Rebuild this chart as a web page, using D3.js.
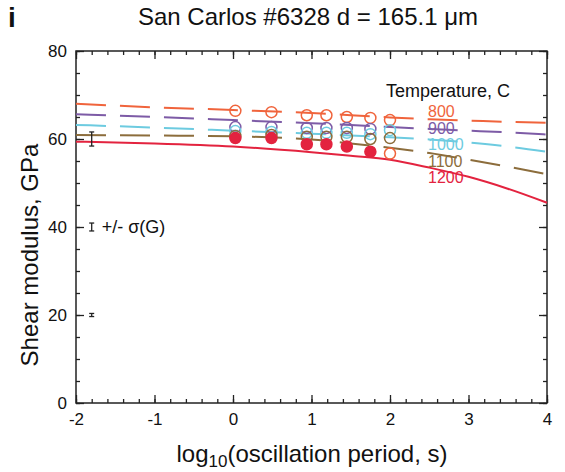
<!DOCTYPE html>
<html>
<head>
<meta charset="utf-8">
<script src="https://cdn.jsdelivr.net/npm/d3@7"></script>
<style>
	body { margin: 0; background: #fff; }
	svg { font-family: "Liberation Sans", Arial, Helvetica, sans-serif; }
	.tick text { font-size: 17px; fill: #111; }
</style>
</head>
<body>
<svg id="main_svg"></svg>
<script>
const WIDTH = 565;
const HEIGHT = 472;

// temperatures, C
const temps = ['800', '900', '1000', '1100', '1200'];
const colors = ['#f0643c', '#7d5ba6', '#6dcbe0', '#8c6d3c', '#e3233f'];

// model curves, log10 period vs G (GPa)
const curve_x = [-2, -1, 0, 1, 1.5, 2, 2.5, 3, 3.5, 4];
const curve_800 = [68.0, 67.2, 66.6, 65.9, 65.4, 64.9, 64.5, 64.2, 63.9, 63.7];
const curve_900 = [65.6, 65.0, 64.3, 63.6, 63.2, 62.7, 62.3, 61.9, 61.5, 61.0];
const curve_1000 = [63.2, 62.6, 61.9, 61.2, 60.8, 60.4, 59.9, 59.2, 58.3, 57.1];
const curve_1100 = [60.9, 60.8, 60.6, 59.9, 59.0, 58.0, 56.8, 55.3, 53.7, 52.0];
const curve_1200 = [59.4, 59.0, 58.3, 57.0, 56.2, 55.3, 53.5, 51.4, 48.7, 45.5];

// measured points
const obs_x = [0.03, 0.49, 0.94, 1.19, 1.45, 1.75, 2.0];
const obs_800 = [66.4, 66.1, 65.4, 65.4, 65.0, 64.8, 64.3];
const obs_900 = [62.7, 62.7, 62.5, 62.5, 62.5, 62.3, null];
const obs_1000 = [61.8, 61.6, 61.4, 61.4, 61.4, 61.1, 62.0];
const obs_1100 = [60.7, 60.9, 60.5, 60.5, 60.5, 60.0, 60.2];
const obs_1200 = [60.2, 60.2, 58.8, 58.8, 58.3, 57.1, 56.7];
const filled_1200 = [1, 1, 1, 1, 1, 1, 0];

// error bar examples
const err_x = -1.8;
const err_g = [60, 40, 20];
const err_sigma = [1.6, 0.9, 0.35];

const x_ticks = [-2, -1, 0, 1, 2, 3, 4];
const y_ticks = [0, 20, 40, 60, 80];

const curves = [curve_800, curve_900, curve_1000, curve_1100, curve_1200];
const obs = [obs_800, obs_900, obs_1000, obs_1100, obs_1200];

const LEFT = 76, RIGHT = 547, TOP = 51, BOTTOM = 403;

const svg = d3.select('#main_svg').attr('width', WIDTH).attr('height', HEIGHT);

const x_scale = d3.scaleLinear().domain([-2, 4]).range([LEFT, RIGHT]);
const y_scale = d3.scaleLinear().domain([0, 80]).range([BOTTOM, TOP]);

// axes: major + minor, ticks pointing inward, mirrored
const x_minor = d3.range(-2, 4.001, 0.2).map(d => +d.toFixed(1));
const y_minor = d3.range(0, 80.001, 5);

const add_axis = (axis, transform) => {
	const g = svg.append('g').attr('transform', transform).call(axis);
	g.select('.domain').remove();
	g.selectAll('.tick line').attr('stroke', '#222').attr('stroke-width', 1.3);
	return g;
};

add_axis(d3.axisBottom(x_scale).tickValues(x_minor).tickSize(-4).tickFormat(''), `translate(0,${BOTTOM})`);
add_axis(d3.axisBottom(x_scale).tickValues(x_ticks).tickSize(-8).tickPadding(10).tickFormat(d => String(d)), `translate(0,${BOTTOM})`);
add_axis(d3.axisTop(x_scale).tickValues(x_minor).tickSize(-4).tickFormat(''), `translate(0,${TOP})`);
add_axis(d3.axisTop(x_scale).tickValues(x_ticks).tickSize(-8).tickFormat(''), `translate(0,${TOP})`);

add_axis(d3.axisLeft(y_scale).tickValues(y_minor).tickSize(-4).tickFormat(''), `translate(${LEFT},0)`);
add_axis(d3.axisLeft(y_scale).tickValues(y_ticks).tickSize(-8).tickPadding(9).tickFormat(d => String(d)), `translate(${LEFT},0)`);
add_axis(d3.axisRight(y_scale).tickValues(y_minor).tickSize(-4).tickFormat(''), `translate(${RIGHT},0)`);
add_axis(d3.axisRight(y_scale).tickValues(y_ticks).tickSize(-8).tickFormat(''), `translate(${RIGHT},0)`);

// frame
svg.append('rect')
	.attr('x', LEFT).attr('y', TOP)
	.attr('width', RIGHT - LEFT).attr('height', BOTTOM - TOP)
	.attr('fill', 'none').attr('stroke', '#222').attr('stroke-width', 1.5);

// model curves
const line = d3.line()
	.x(d => x_scale(d[0]))
	.y(d => y_scale(d[1]))
	.curve(d3.curveMonotoneX);

curves.forEach((c, i) => {
	svg.append('path')
		.datum(curve_x.map((x, j) => [x, c[j]]))
		.attr('d', line)
		.attr('fill', 'none')
		.attr('stroke', colors[i])
		.attr('stroke-width', 2)
		.attr('stroke-dasharray', i === 4 ? null : '30,14');
});

// measured points
obs.forEach((o, i) => {
	const pts = obs_x.map((x, j) => ({x: x, g: o[j], filled: i === 4 && filled_1200[j] === 1}))
		.filter(d => d.g !== null);
	svg.selectAll(null)
		.data(pts)
		.enter()
		.append('circle')
		.attr('cx', d => x_scale(d.x))
		.attr('cy', d => y_scale(d.g))
		.attr('r', 5.5)
		.attr('fill', d => d.filled ? colors[i] : 'none')
		.attr('stroke', d => (i === 4 && !d.filled) ? colors[0] : colors[i])
		.attr('stroke-width', 1.5);
});

// error bars
err_g.forEach((g, i) => {
	const x = x_scale(err_x);
	const y0 = y_scale(g - err_sigma[i]), y1 = y_scale(g + err_sigma[i]);
	const eb = svg.append('g').attr('stroke', '#222').attr('stroke-width', 1.3);
	eb.append('line').attr('x1', x).attr('x2', x).attr('y1', y0).attr('y2', y1);
	eb.append('line').attr('x1', x - 2.5).attr('x2', x + 2.5).attr('y1', y0).attr('y2', y0);
	eb.append('line').attr('x1', x - 2.5).attr('x2', x + 2.5).attr('y1', y1).attr('y2', y1);
});

svg.append('text')
	.attr('x', x_scale(err_x) + 10)
	.attr('y', y_scale(err_g[1]) + 6)
	.attr('font-size', '18px')
	.attr('fill', '#111')
	.text('+/- σ(G)');

// legend
svg.append('text')
	.attr('x', 386).attr('y', 97)
	.attr('font-size', '18px')
	.attr('fill', '#111')
	.text('Temperature, C');

temps.forEach((t, i) => {
	svg.append('text')
		.attr('x', 428).attr('y', 117 + i * 16.5)
		.attr('font-size', '16px')
		.attr('fill', colors[i])
		.text(t);
});

// titles
svg.append('text')
	.attr('x', 8).attr('y', 27)
	.attr('font-size', '28px')
	.attr('font-weight', 'bold')
	.attr('fill', '#111')
	.text('i');

svg.append('text')
	.attr('x', 308).attr('y', 25)
	.attr('text-anchor', 'middle')
	.attr('font-size', '24px')
	.attr('fill', '#111')
	.text('San Carlos #6328 d = 165.1 μm');

const xlab = svg.append('text')
	.attr('x', 312).attr('y', 462)
	.attr('text-anchor', 'middle')
	.attr('font-size', '24px')
	.attr('fill', '#111');
xlab.append('tspan').text('log');
xlab.append('tspan').attr('font-size', '17px').attr('dy', 5).text('10');
xlab.append('tspan').attr('dy', -5).text('(oscillation period, s)');

svg.append('text')
	.attr('transform', `translate(38,${(TOP + BOTTOM) / 2 + 28}) rotate(-90)`)
	.attr('text-anchor', 'middle')
	.attr('font-size', '24px')
	.attr('fill', '#111')
	.text('Shear modulus, GPa');
</script>
</body>
</html>
